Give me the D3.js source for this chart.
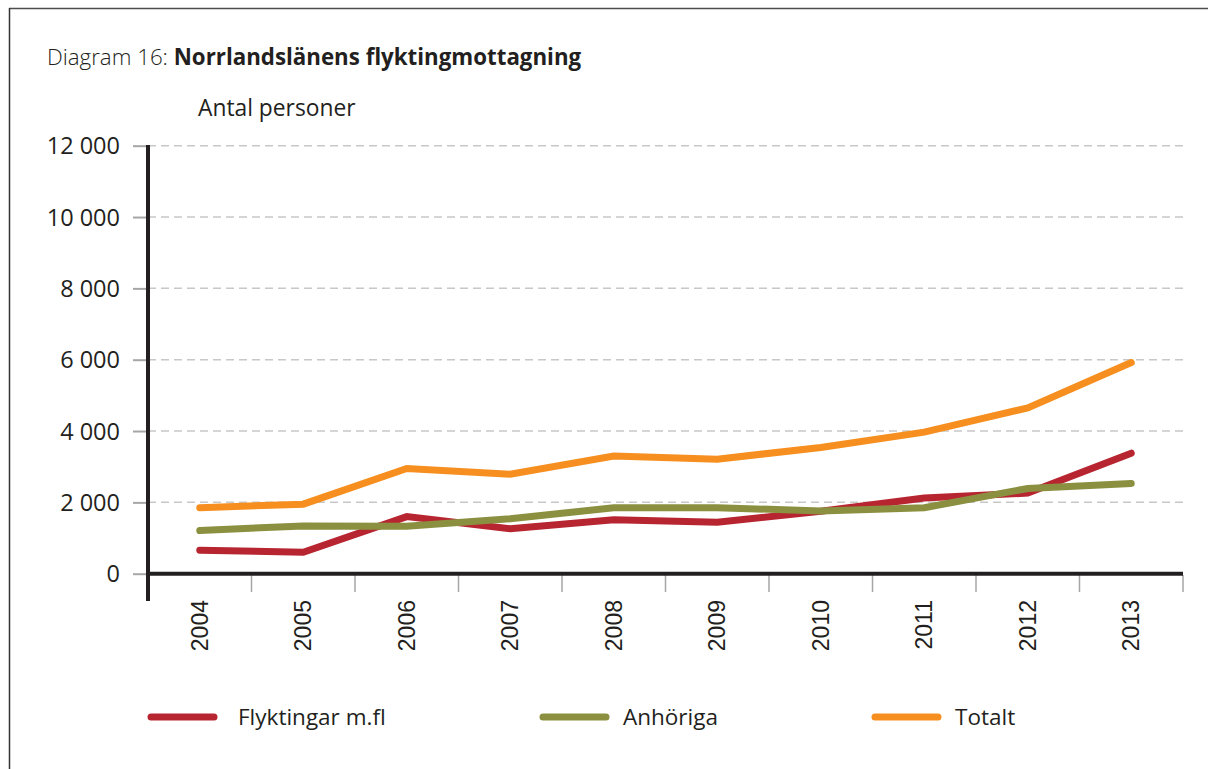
<!DOCTYPE html>
<html>
<head>
<meta charset="utf-8">
<script src="https://cdn.jsdelivr.net/npm/d3@7"></script>
<style>
  body { margin: 0; background: #fff; }
  svg text { fill: #231f20; }
  .calib { font-family: "Open Sans", sans-serif; }
  .xlab { font-family: "Liberation Sans", Arial, sans-serif; }
</style>
</head>
<body>
<svg id="chart" width="1208" height="769"></svg>
<script>
var years = ["2004", "2005", "2006", "2007", "2008", "2009", "2010", "2011", "2012", "2013"];
var flyktingar = [660, 600, 1600, 1260, 1510, 1440, 1750, 2120, 2260, 3380];
var anhoriga = [1210, 1340, 1330, 1540, 1850, 1850, 1760, 1850, 2390, 2530];
var totalt = [1850, 1950, 2950, 2790, 3300, 3210, 3540, 3970, 4650, 5920];
var yTicks = [0, 2000, 4000, 6000, 8000, 10000, 12000];
var seriesNames = ["Flyktingar m.fl", "Anhöriga", "Totalt"];
var colors = ["#b72530", "#8b9040", "#f68f1f"];

var svg = d3.select("#chart");

// frame (top + left edge)
svg.append("line").attr("x1", 9).attr("x2", 1208).attr("y1", 8.5).attr("y2", 8.5)
    .attr("stroke", "#4d4d4d").attr("stroke-width", 1.5);
svg.append("line").attr("x1", 9.5).attr("x2", 9.5).attr("y1", 8).attr("y2", 769)
    .attr("stroke", "#333").attr("stroke-width", 1.5);

// title
var title = svg.append("text").attr("class", "calib")
    .attr("x", 47).attr("y", 65).style("font-size", "22.3px");
title.append("tspan").text("Diagram 16: ").style("font-weight", 300);
title.append("tspan").text("Norrlandslänens flyktingmottagning").style("font-weight", 700);

svg.append("text").attr("class", "calib")
    .attr("x", 198).attr("y", 116).style("font-size", "22.8px")
    .text("Antal personer");

var x = d3.scaleBand().domain(years).range([148, 1183]);
var y = d3.scaleLinear().domain([0, 12000]).range([573.7, 145.7]);

// gridlines
svg.append("g").selectAll("line")
    .data(yTicks.filter(function(d) { return d > 0; }))
    .enter().append("line")
    .attr("x1", 148).attr("x2", 1183)
    .attr("y1", function(d) { return y(d); })
    .attr("y2", function(d) { return y(d); })
    .attr("stroke", "#c8c8c8").attr("stroke-width", 1.5)
    .attr("stroke-dasharray", "8,5");

// y axis
var yAxis = svg.append("g").attr("transform", "translate(148,0)")
    .call(d3.axisLeft(y).tickValues(yTicks).tickSize(15).tickPadding(13)
        .tickFormat(function(d) { return d3.format(",")(d).replace(",", " "); }));
yAxis.select(".domain").remove();
yAxis.selectAll(".tick line").attr("stroke", "#a6a6a6").attr("stroke-width", 2);
yAxis.selectAll(".tick text").attr("class", "calib")
    .style("font-size", "23.5px").attr("dy", "0.35em").style("fill", "#231f20");

// x axis ticks at band edges
var edges = years.map(function(d) { return x(d); }).concat([x.range()[1]]);
svg.append("g").selectAll("line").data(edges.slice(1)).enter().append("line")
    .attr("x1", function(d) { return d; }).attr("x2", function(d) { return d; })
    .attr("y1", 575).attr("y2", 592)
    .attr("stroke", "#a6a6a6").attr("stroke-width", 1.5);

// x labels
svg.append("g").selectAll("text").data(years).enter().append("text")
    .attr("class", "xlab")
    .attr("transform", function(d) {
        return "translate(" + (x(d) + x.bandwidth() / 2 + 8) + ",600) rotate(-90)";
    })
    .attr("text-anchor", "end")
    .style("font-size", "23px")
    .text(function(d) { return d; });

// axis lines
svg.append("line").attr("x1", 148).attr("x2", 148).attr("y1", 145).attr("y2", 601)
    .attr("stroke", "#231f20").attr("stroke-width", 4);
svg.append("line").attr("x1", 146).attr("x2", 1183).attr("y1", 573.7).attr("y2", 573.7)
    .attr("stroke", "#231f20").attr("stroke-width", 4);

// series lines
var line = d3.line()
    .x(function(d, i) { return x(years[i]) + x.bandwidth() / 2; })
    .y(function(d) { return y(d); });

[flyktingar, anhoriga, totalt].forEach(function(s, i) {
    svg.append("path").datum(s)
        .attr("d", line)
        .attr("fill", "none")
        .attr("stroke", colors[i])
        .attr("stroke-width", 7)
        .attr("stroke-linecap", "round");
});

// legend
var legX = [151, 543, 875];
var legTextX = [238, 623, 955];
var leg = svg.append("g").selectAll("g").data(seriesNames).enter().append("g")
    .attr("transform", function(d, i) { return "translate(" + legX[i] + ",717)"; });
leg.append("line").attr("x1", 0).attr("x2", 63).attr("y1", 0).attr("y2", 0)
    .attr("stroke", function(d, i) { return colors[i]; })
    .attr("stroke-width", 7).attr("stroke-linecap", "round");
leg.append("text").attr("class", "calib")
    .attr("x", function(d, i) { return legTextX[i] - legX[i]; }).attr("y", 8)
    .style("font-size", "22.5px")
    .text(function(d) { return d; });
</script>
</body>
</html>
